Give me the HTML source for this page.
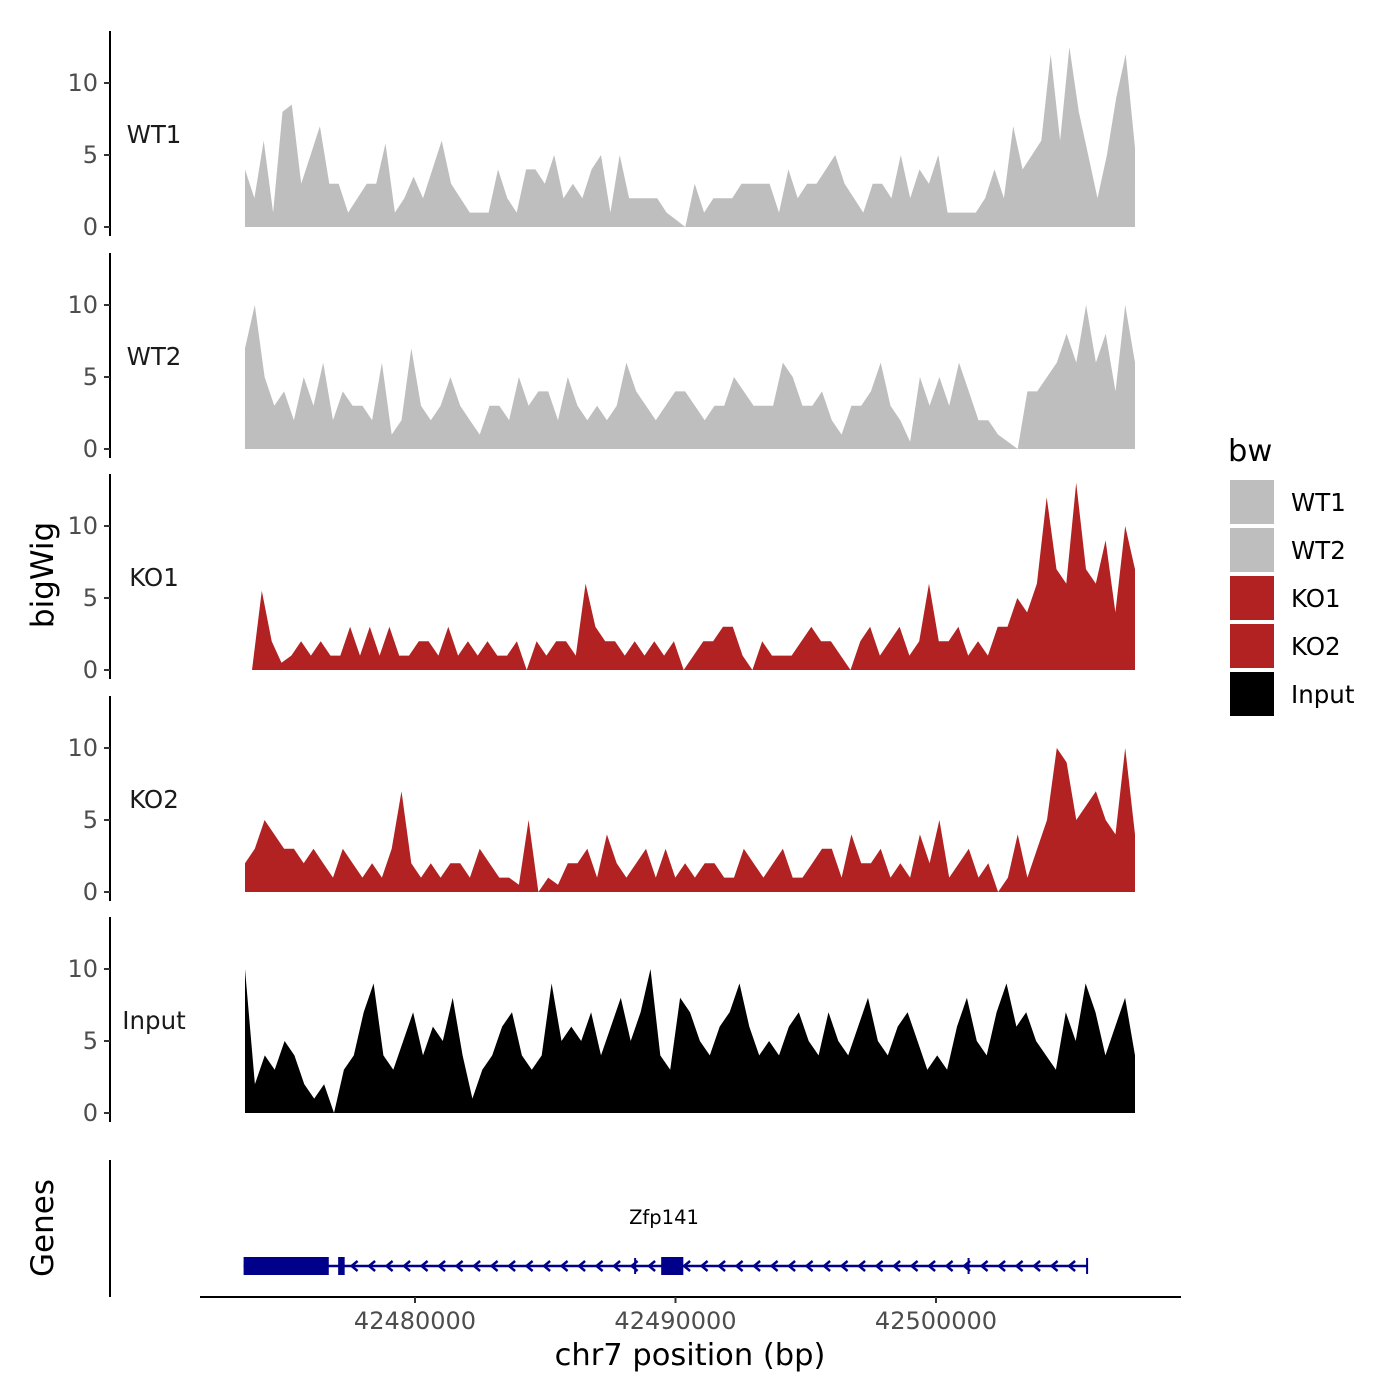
<!DOCTYPE html>
<html><head><meta charset="utf-8"><style>
html,body{margin:0;padding:0;background:#fff;}
svg{display:block;font-family:"DejaVu Sans","Liberation Sans",sans-serif;}
</style></head><body>
<svg id="chart" width="1400" height="1400" viewBox="0 0 1400 1400"></svg>
<script>
// ---- data ----
const startBp = 42473474, endBp = 42507640;
const xTicks = [42480000, 42490000, 42500000];
const yTicks = [0, 5, 10];
const trackNames = ["WT1","WT2","KO1","KO2","Input"];
const trackColors = ["#bebebe","#bebebe","#b22222","#b22222","#000000"];
const wt1 = [4,2,6,1,8,8.5,3,5,7,3,3,1,2,3,3,5.8,1,2,3.5,2,4,6,3,2,1,1,1,4,2,1,4,4,3,5,2,3,2,4,5,1,5,2,2,2,2,1,0.5,0,3,1,2,2,2,3,3,3,3,1,4,2,3,3,4,5,3,2,1,3,3,2,5,2,4,3,5,1,1,1,1,2,4,2,7,4,5,6,12,6,12.5,8,5,2,5,9,12,5.5];
const wt2 = [7,10,5,3,4,2,5,3,6,2,4,3,3,2,6,1,2,7,3,2,3,5,3,2,1,3,3,2,5,3,4,4,2,5,3,2,3,2,3,6,4,3,2,3,4,4,3,2,3,3,5,4,3,3,3,6,5,3,3,4,2,1,3,3,4,6,3,2,0.5,5,3,5,3,6,4,2,2,1,0.5,0,4,4,5,6,8,6,10,6,8,4,10,6];
const ko1 = [0,5.5,2,0.5,1,2,1,2,1,1,3,1,3,1,3,1,1,2,2,1,3,1,2,1,2,1,1,2,0,2,1,2,2,1,6,3,2,2,1,2,1,2,1,2,0,1,2,2,3,3,1,0,2,1,1,1,2,3,2,2,1,0,2,3,1,2,3,1,2,6,2,2,3,1,2,1,3,3,5,4,6,12,7,6,13,7,6,9,4,10,7];
const ko2 = [2,3,5,4,3,3,2,3,2,1,3,2,1,2,1,3,7,2,1,2,1,2,2,1,3,2,1,1,0.5,5,0,1,0.5,2,2,3,1,4,2,1,2,3,1,3,1,2,1,2,2,1,1,3,2,1,2,3,1,1,2,3,3,1,4,2,2,3,1,2,1,4,2,5,1,2,3,1,2,0,1,4,1,3,5,10,9,5,6,7,5,4,10,4];
const input = [10,2,4,3,5,4,2,1,2,0,3,4,7,9,4,3,5,7,4,6,5,8,4,1,3,4,6,7,4,3,4,9,5,6,5,7,4,6,8,5,7,10,4,3,8,7,5,4,6,7,9,6,4,5,4,6,7,5,4,7,5,4,6,8,5,4,6,7,5,3,4,3,6,8,5,4,7,9,6,7,5,4,3,7,5,9,7,4,6,8,4];
const geneStart = 42473420, geneEnd = 42505800;
const exonStarts = [42473420, 42477050, 42489450];
const exonEnds = [42476690, 42477300, 42490300];
const geneTicks = [42488450, 42501250, 42505800];
const legendLabels = ["WT1","WT2","KO1","KO2","Input"];
</script>
<script>
const NS="http://www.w3.org/2000/svg";
const svg=document.getElementById('chart');
function mk(tag,attrs,parent){const e=document.createElementNS(NS,tag);for(const k in attrs)e.setAttribute(k,attrs[k]);(parent||svg).appendChild(e);return e;}
const xs = bp => 415 + (bp-42480000)/10000*260.5;
const series=[wt1,wt2,ko1,ko2,input];
const zeros=[227,449,670,892,1113];
const upp=14.4;
const panelTops=[31,253,474,696,917];
const starts=[startBp,startBp,startBp+270,startBp,startBp];
series.forEach((vals,i)=>{
  const g=mk('g',{});
  
  
  const y=v=>zeros[i]-v*upp;
  const s0=starts[i], n=vals.length;
  let d='M'+xs(s0)+','+zeros[i];
  vals.forEach((v,j)=>{const bp=s0+(endBp-s0)*j/(n-1);d+=' L'+xs(bp).toFixed(1)+','+y(v).toFixed(1);});
  d+=' L'+xs(endBp)+','+zeros[i]+' Z';
  const p=mk('path',{d:d,fill:trackColors[i]},g);
  
  
  const ax=mk('line',{x1:110,x2:110,y1:panelTops[i],y2:panelTops[i]+205,stroke:'#000','stroke-width':2},g);
  
  
  yTicks.forEach(t=>{
    mk('line',{x1:104,x2:110,y1:y(t),y2:y(t),stroke:'#333','stroke-width':2},g);
    const tl=mk('text',{x:98,y:y(t)+8,'text-anchor':'end','font-size':24,fill:'#4d4d4d'},g);
    tl.textContent=t;
    
    
  });
  const lb=mk('text',{x:154,y:zeros[i]-84,'text-anchor':'middle','font-size':24.5,fill:'#1a1a1a'},g);
  lb.textContent=trackNames[i];
  
  
});
const yt=mk('text',{transform:'translate(53,575) rotate(-90)','text-anchor':'middle','font-size':31,fill:'#000'});
yt.textContent='bigWig';


const gg=mk('g',{});


mk('line',{x1:110,x2:110,y1:1160,y2:1297,stroke:'#000','stroke-width':2},gg);
const gt=mk('text',{transform:'translate(53,1228) rotate(-90)','text-anchor':'middle','font-size':31,fill:'#000'},gg);
gt.textContent='Genes';


const gy=1266, col='#00008b';
mk('line',{x1:xs(geneStart),x2:xs(geneEnd),y1:gy,y2:gy,stroke:col,'stroke-width':2.5},gg);
for(let x=xs(geneStart)+110;x<xs(geneEnd);x+=17.5){
  mk('path',{d:`M${x+4},${gy-5} L${x-2},${gy} L${x+4},${gy+5}`,fill:'none',stroke:col,'stroke-width':2.5},gg);
}
geneTicks.forEach(b=>mk('line',{x1:xs(b),x2:xs(b),y1:gy-8,y2:gy+8,stroke:col,'stroke-width':2},gg));
exonStarts.forEach((b,i)=>{
  const r=mk('rect',{x:xs(b),y:gy-9,width:xs(exonEnds[i])-xs(b),height:18,fill:col},gg);
  
  
});
const gn=mk('text',{x:664,y:1224,'text-anchor':'middle','font-size':19.5,fill:'#000'},gg);
gn.textContent='Zfp141';


const xa=mk('line',{x1:200,x2:1181,y1:1297,y2:1297,stroke:'#000','stroke-width':2});


xTicks.forEach(t=>{
  mk('line',{x1:xs(t),x2:xs(t),y1:1297,y2:1303,stroke:'#333','stroke-width':2});
  const tl=mk('text',{x:xs(t),y:1329,'text-anchor':'middle','font-size':24,fill:'#4d4d4d'});
  tl.textContent=t;
  
  
});
const xt=mk('text',{x:690,y:1365,'text-anchor':'middle','font-size':30.5,fill:'#000'});
xt.textContent='chr7 position (bp)';


const lg=mk('g',{});


const ltt=mk('text',{x:1228,y:461,'font-size':30.5,fill:'#000'},lg);
ltt.textContent='bw';


legendLabels.forEach((l,i)=>{
  const y0=480+i*48;
  const r=mk('rect',{x:1230,y:y0,width:44,height:44,fill:trackColors[i]},lg);
  
  
  const t=mk('text',{x:1291,y:y0+31,'font-size':24.5,fill:'#000'},lg);
  t.textContent=l;
  
  
});
</script>
</body></html>
